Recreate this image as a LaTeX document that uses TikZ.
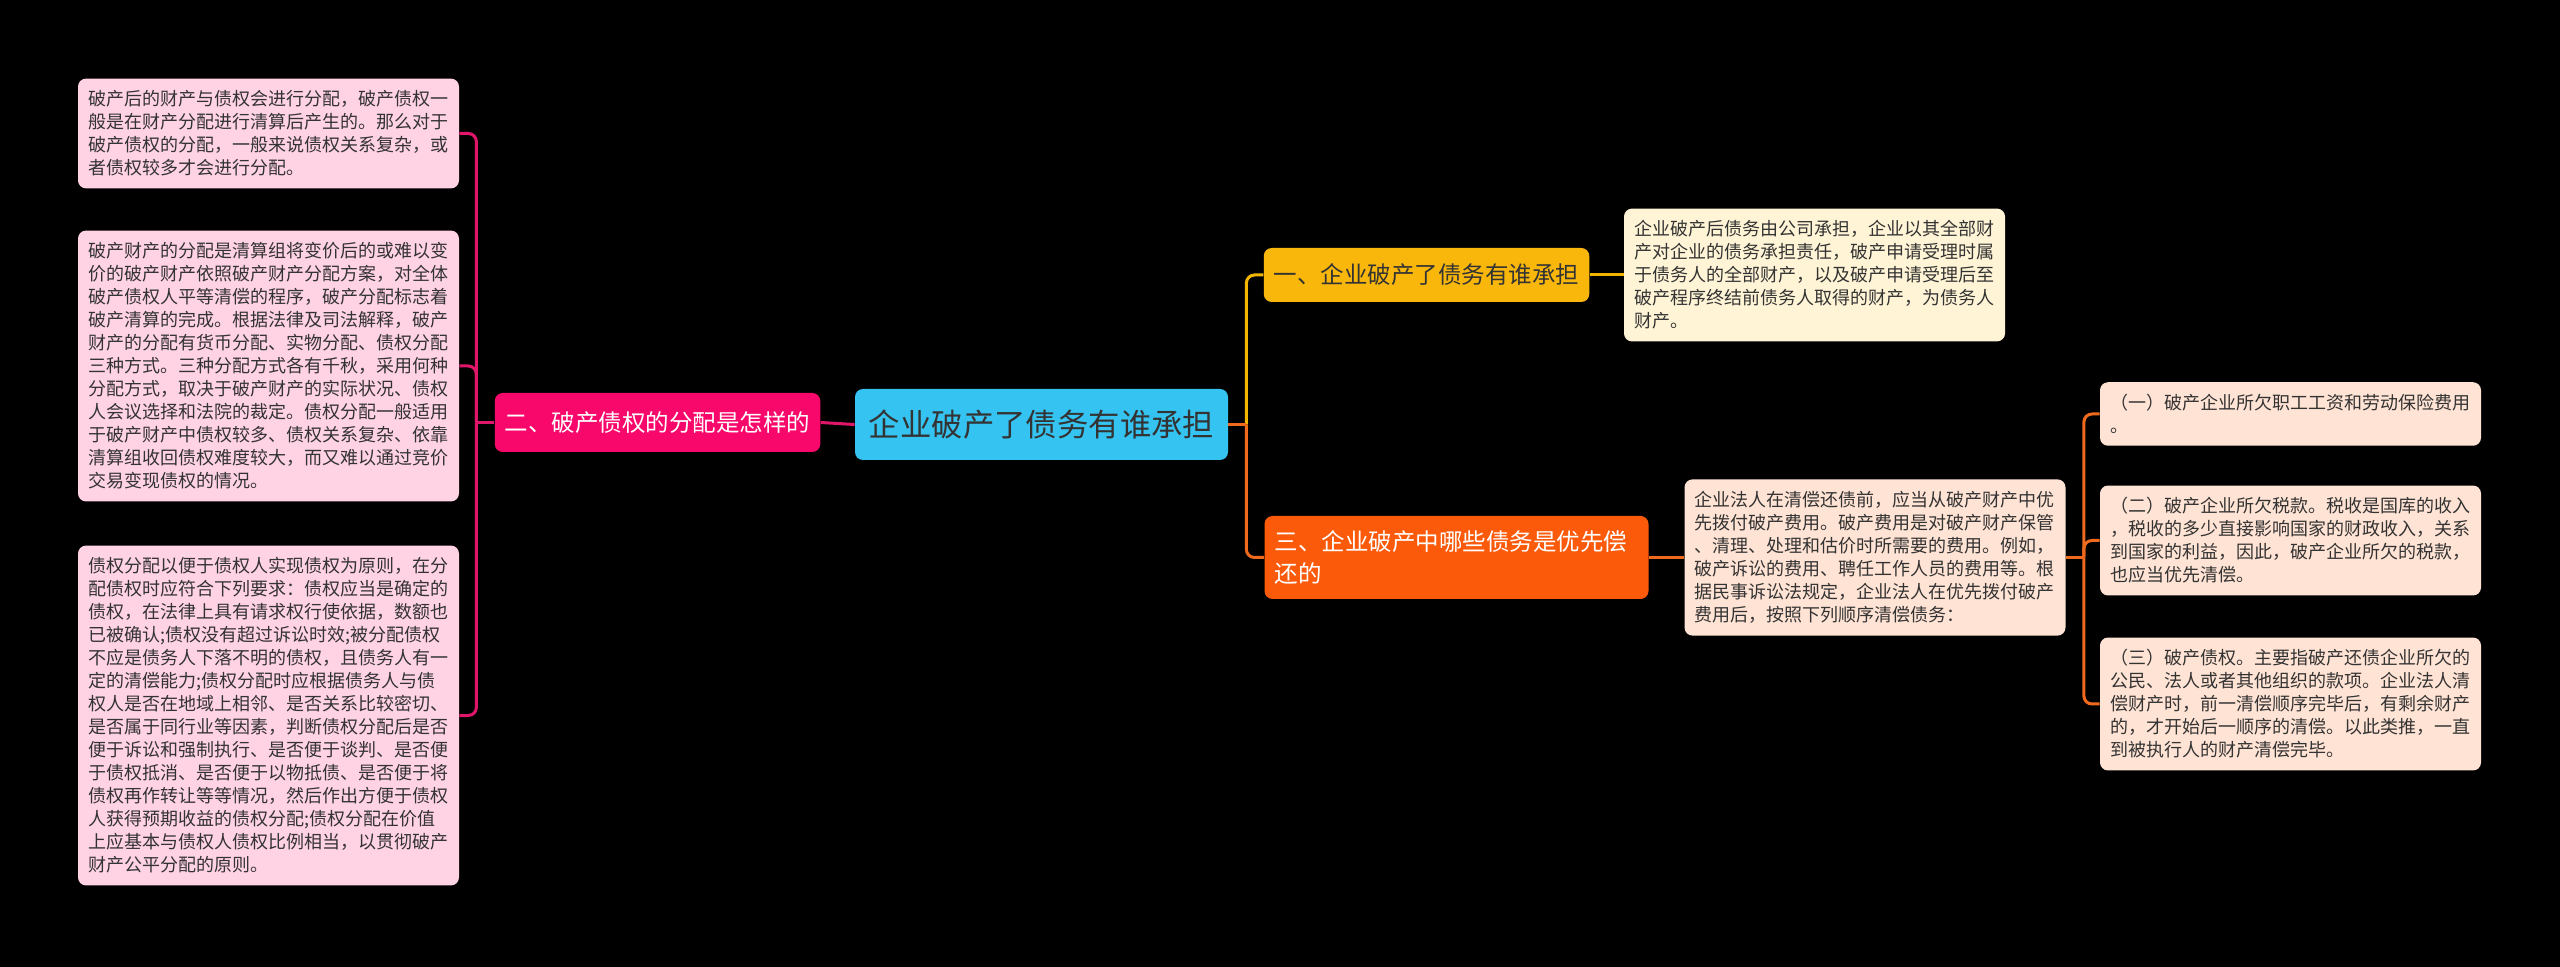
\documentclass[tikz,border=0pt]{standalone}
\usepackage{fontspec}
\newfontfamily\cjk{Noto Sans CJK SC}
\definecolor{rootblue}{HTML}{35C3F1}
\definecolor{distrpink}{HTML}{F8086A}
\definecolor{notepink}{HTML}{FFD2E4}
\definecolor{linepink}{HTML}{E0166A}
\definecolor{whoyellow}{HTML}{F9B70B}
\definecolor{notecream}{HTML}{FFF4D6}
\definecolor{lineyellow}{HTML}{F2B600}
\definecolor{priored}{HTML}{FB5A0B}
\definecolor{notepeach}{HTML}{FFE3D4}
\definecolor{lineorange}{HTML}{F06A1E}
\definecolor{textdark}{HTML}{333333}
\begin{document}
\begin{tikzpicture}[
    x=0.5pt, y=-0.5pt,
    root/.style={rectangle, rounded corners=4pt, fill=rootblue, text=textdark, font=\cjk\fontsize{15.7pt}{19pt}\selectfont, minimum width=186.5pt, minimum height=35.5pt, inner sep=0pt},
    topic/.style={rectangle, rounded corners=4pt, font=\cjk\fontsize{11.75pt}{16.3pt}\selectfont, inner xsep=5pt, inner ysep=0pt, align=left},
    note/.style={rectangle, rounded corners=4pt, font=\cjk\fontsize{9pt}{11.5pt}\selectfont, text width=180.5pt, inner xsep=5pt, inner ysep=6pt, align=left},
    link/.style={line width=1.5pt, rounded corners=4pt}
]
\fill[black] (0,0) rectangle (2560,967);
\useasboundingbox (0,0) rectangle (2560,967);

% Root
\node[root] (root) at (1041.5,424.5) {企业破产了债务有谁承担};

% Topics
\node[topic, fill=distrpink, text=white, minimum width=162.5pt, minimum height=29.5pt] (distr) at (657.5,422.5) {二、破产债权的分配是怎样的};
\node[topic, fill=whoyellow, text=textdark, minimum width=162.5pt, minimum height=27pt] (who) at (1426.5,275) {一、企业破产了债务有谁承担};
\node[topic, fill=priored, text=white, text width=182pt, minimum height=41.5pt] (prio) at (1456.5,557.5) {三、企业破产中哪些债务是优先偿\\还的};

% Left notes
\node[note, fill=notepink, text=textdark] (dnote1) at (268.5,133.5) {破产后的财产与债权会进行分配，破产债权一\\般是在财产分配进行清算后产生的。那么对于\\破产债权的分配，一般来说债权关系复杂，或\\者债权较多才会进行分配。};
\node[note, fill=notepink, text=textdark] (dnote2) at (268.5,366) {破产财产的分配是清算组将变价后的或难以变\\价的破产财产依照破产财产分配方案，对全体\\破产债权人平等清偿的程序，破产分配标志着\\破产清算的完成。根据法律及司法解释，破产\\财产的分配有货币分配、实物分配、债权分配\\三种方式。三种分配方式各有千秋，采用何种\\分配方式，取决于破产财产的实际状况、债权\\人会议选择和法院的裁定。债权分配一般适用\\于破产财产中债权较多、债权关系复杂、依靠\\清算组收回债权难度较大，而又难以通过竞价\\交易变现债权的情况。};
\node[note, fill=notepink, text=textdark] (dnote3) at (268.5,715.5) {债权分配以便于债权人实现债权为原则，在分\\配债权时应符合下列要求：债权应当是确定的\\债权，在法律上具有请求权行使依据，数额也\\已被确认;债权没有超过诉讼时效;被分配债权\\不应是债务人下落不明的债权，且债务人有一\\定的清偿能力;债权分配时应根据债务人与债\\权人是否在地域上相邻、是否关系比较密切、\\是否属于同行业等因素，判断债权分配后是否\\便于诉讼和强制执行、是否便于谈判、是否便\\于债权抵消、是否便于以物抵债、是否便于将\\债权再作转让等等情况，然后作出方便于债权\\人获得预期收益的债权分配;债权分配在价值\\上应基本与债权人债权比例相当，以贯彻破产\\财产公平分配的原则。};

% Right notes
\node[note, fill=notecream, text=textdark] (whonote) at (1814.5,275) {企业破产后债务由公司承担，企业以其全部财\\产对企业的债务承担责任，破产申请受理时属\\于债务人的全部财产，以及破产申请受理后至\\破产程序终结前债务人取得的财产，为债务人\\财产。};
\node[note, fill=notepeach, text=textdark] (prionote) at (1875,557.5) {企业法人在清偿还债前，应当从破产财产中优\\先拨付破产费用。破产费用是对破产财产保管\\、清理、处理和估价时所需要的费用。例如，\\破产诉讼的费用、聘任工作人员的费用等。根\\据民事诉讼法规定，企业法人在优先拨付破产\\费用后，按照下列顺序清偿债务：};
\node[note, fill=notepeach, text=textdark] (order1) at (2290.5,414) {（一）破产企业所欠职工工资和劳动保险费用\\。};
\node[note, fill=notepeach, text=textdark] (order2) at (2290.5,540.5) {（二）破产企业所欠税款。税收是国库的收入\\，税收的多少直接影响国家的财政收入，关系\\到国家的利益，因此，破产企业所欠的税款，\\也应当优先清偿。};
\node[note, fill=notepeach, text=textdark] (order3) at (2290.5,704) {（三）破产债权。主要指破产还债企业所欠的\\公民、法人或者其他组织的款项。企业法人清\\偿财产时，前一清偿顺序完毕后，有剩余财产\\的，才开始后一顺序的清偿。以此类推，一直\\到被执行人的财产清偿完毕。};

% Connectors
\draw[link, linepink] (distr.west) -- ++(-18,0);
\draw[link, linepink] (distr.west) ++(-18,0) |- (dnote1.east);
\draw[link, linepink] (distr.west) ++(-18,0) |- (dnote2.east);
\draw[link, linepink] (distr.west) ++(-18,0) |- (dnote3.east);
\draw[link, linepink] (root.west) -- (distr.east);

\draw[link, lineyellow] (root.east) ++(18,0) |- (who.west);
\draw[link, lineorange] (root.east) ++(18,0) |- (prio.west);
\draw[link, lineorange] (root.east) -- ++(18,0);
\draw[link, lineyellow] (who.east) -- (whonote.west);
\draw[link, lineorange] (prio.east) -- (prionote.west);

\draw[link, lineorange] (prionote.east) -- ++(18,0);
\draw[link, lineorange] (prionote.east) ++(18,0) |- (order1.west);
\draw[link, lineorange] (prionote.east) ++(18,0) |- (order2.west);
\draw[link, lineorange] (prionote.east) ++(18,0) |- (order3.west);
\end{tikzpicture}
\end{document}
